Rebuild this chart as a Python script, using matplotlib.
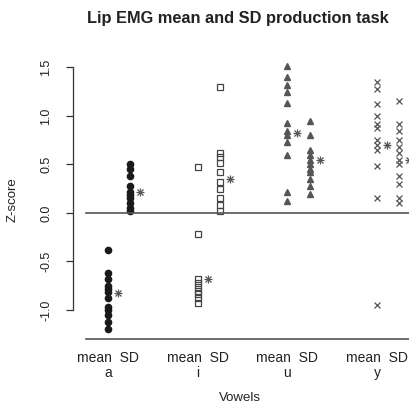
import matplotlib
matplotlib.use("Agg")
import matplotlib.pyplot as plt
import numpy as np

plt.rcParams['font.family'] = ['Liberation Sans', 'DejaVu Sans']

vowels = ['a', 'i', 'u', 'y']
tick_labels = ['mean  SD\na', 'mean  SD\ni', 'mean  SD\nu', 'mean  SD\ny']

mean_a = [-0.38, -0.62, -0.68, -0.75, -0.78, -0.82, -0.88, -0.97, -1.00, -1.05, -1.12, -1.20]
sd_a = [0.50, 0.45, 0.38, 0.28, 0.22, 0.18, 0.15, 0.10, 0.05, 0.02]
mean_i = [0.47, -0.22, -0.68, -0.72, -0.76, -0.80, -0.84, -0.88, -0.93]
sd_i = [1.30, 0.62, 0.58, 0.52, 0.42, 0.32, 0.25, 0.15, 0.08, 0.02]
mean_u = [1.52, 1.40, 1.32, 1.25, 1.13, 0.93, 0.85, 0.80, 0.73, 0.60, 0.22, 0.12]
sd_u = [0.95, 0.80, 0.65, 0.60, 0.55, 0.50, 0.45, 0.42, 0.35, 0.28, 0.20]
mean_y = [1.35, 1.28, 1.12, 1.00, 0.92, 0.88, 0.75, 0.70, 0.65, 0.48, 0.15, -0.95]
sd_y = [1.15, 0.92, 0.85, 0.75, 0.68, 0.62, 0.55, 0.50, 0.38, 0.30, 0.15, 0.10]

star_mean = [-0.83, -0.68, 0.82, 0.70]
star_sd = [0.22, 0.35, 0.55, 0.55]

groups = [(mean_a, sd_a), (mean_i, sd_i), (mean_u, sd_u), (mean_y, sd_y)]
styles = [
    dict(marker='o', color='#1a1a1a', mfc='#1a1a1a', ms=4.5),
    dict(marker='s', color='#444444', mfc='none', ms=5, mew=0.9),
    dict(marker='^', color='#555555', mfc='#555555', ms=5),
    dict(marker='x', color='#555555', ms=5, mew=0.9),
]

fig = plt.figure(figsize=(4.10, 4.09), dpi=100)
ax = fig.add_axes([73/410, (409-339)/409, 1 - 73/410, (339-60)/409])

x0 = 0.755
xr = 4.368

def star(x, y):
    ax.plot([x], [y], marker='+', color='#555555', ms=6, mew=0.9, linestyle='none')
    ax.plot([x], [y], marker='x', color='#555555', ms=4.5, mew=0.9, linestyle='none')

for i, ((m, s), st) in enumerate(zip(groups, styles)):
    xm = i + 1
    xs = i + 1.25
    ax.plot([xm]*len(m), m, linestyle='none', **st)
    ax.plot([xs]*len(s), s, linestyle='none', **st)
    star(xm + 0.11, star_mean[i])
    star(xs + 0.11, star_sd[i])

ax.plot([x0, xr], [0, 0], color='#555555', lw=1.2)
ax.plot([x0, xr], [-1.30, -1.30], color='#555555', lw=1.2, clip_on=False)

ax.set_xlim(0.61, xr)
ax.set_ylim(-1.30, 1.577)

for sp in ['top', 'right', 'bottom']:
    ax.spines[sp].set_visible(False)
ax.spines['left'].set_bounds(-1.0, 1.5)
ax.spines['left'].set_color('#333333')
ax.spines['left'].set_linewidth(0.9)

ax.set_yticks([-1.0, -0.5, 0.0, 0.5, 1.0, 1.5])
ax.set_yticklabels(['-1.0', '-0.5', '0.0', '0.5', '1.0', '1.5'], rotation=90, va='center', fontsize=9, color='#222222')
ax.tick_params(axis='y', length=5, width=0.9, color='#333333', pad=10)

ax.set_xticks([1, 2, 3, 4])
ax.set_xticklabels(tick_labels, fontsize=10, color='#222222', linespacing=1.05)
ax.tick_params(axis='x', length=0, pad=9)

fig.text(13/410, 1 - 200/409, 'Z-score', rotation=90, ha='center', va='center', fontsize=9.5, color='#222222')
fig.text(240/410, 1 - 398/409, 'Vowels', ha='center', va='center', fontsize=9.5, color='#222222')
fig.text(238/410, 1 - 18/409, 'Lip EMG mean and SD production task', ha='center', va='center',
         fontsize=11.8, fontweight='bold', color='#222222')

fig.savefig('out.png', dpi=100)
